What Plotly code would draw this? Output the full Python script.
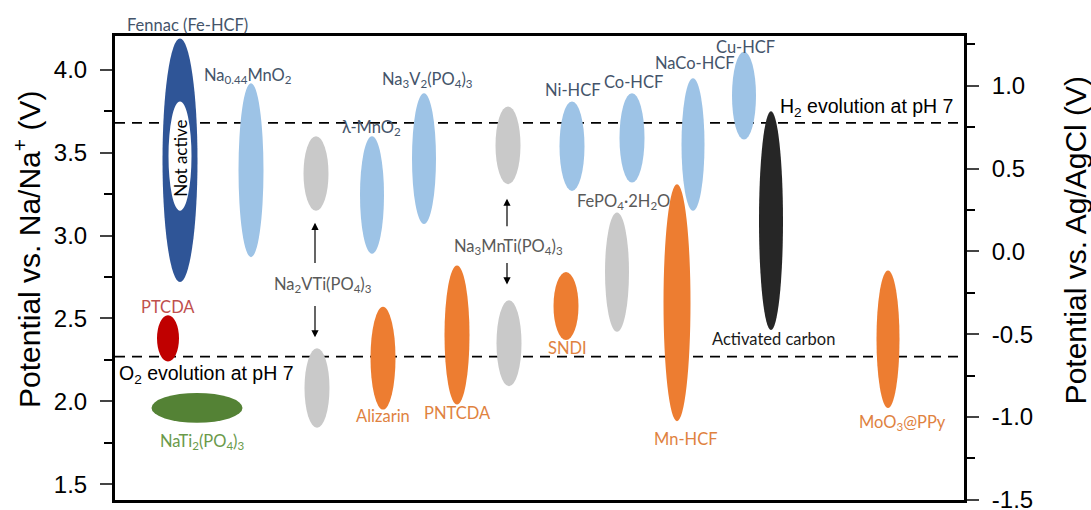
import plotly.graph_objects as go

# Electrode materials: potential window (V vs. Na/Na+)
materials = ["Fennac (Fe-HCF)", "Na0.44MnO2", "Na2VTi(PO4)3 (ox)", "λ-MnO2", "Na3V2(PO4)3",
             "Na3MnTi(PO4)3 (ox)", "Ni-HCF", "Co-HCF", "NaCo-HCF", "Cu-HCF", "Activated carbon",
             "FePO4·2H2O", "Mn-HCF", "Na2VTi(PO4)3 (red)", "Alizarin", "PNTCDA",
             "Na3MnTi(PO4)3 (red)", "SNDI", "MoO3@PPy", "PTCDA", "NaTi2(PO4)3"]
v_low = [2.72, 2.87, 3.15, 2.89, 3.07, 3.31, 3.27, 3.32, 3.15, 3.58, 2.43,
         2.42, 1.88, 1.84, 1.95, 1.98, 2.09, 2.37, 1.96, 2.24, 1.87]
v_high = [4.19, 3.92, 3.60, 3.60, 3.86, 3.78, 3.81, 3.86, 3.95, 4.11, 3.75,
          3.14, 3.31, 2.32, 2.57, 2.82, 2.61, 2.78, 2.79, 2.52, 2.05]
groups = ["fennac", "cathode", "nasicon", "cathode", "cathode", "nasicon", "cathode",
          "cathode", "cathode", "cathode", "carbon", "nasicon", "organic", "nasicon",
          "organic", "organic", "nasicon", "organic", "organic", "ptcda", "nati"]

# Inactive region of Fennac
inactive_low, inactive_high = 3.15, 3.81

# Water stability limits at pH 7 (V vs. Na/Na+)
h2_evolution = 3.68
o2_evolution = 2.27

# Offset between reference electrodes: E(Na/Na+) = E(Ag/AgCl) + offset
ref_offset = 2.905

# Tick labels of both potential scales
na_ticks = [1.5, 2.0, 2.5, 3.0, 3.5, 4.0]
agcl_ticks = [-1.5, -1.0, -0.5, 0.0, 0.5, 1.0]
agcl_ticktext = ["-1.5", "-1.0", "-0.5", "0.0", "0.5", "1.0"]

# Layout: horizontal slot and width of each ellipse
slot_x = [6.5, 13.6, 20.1, 25.7, 30.9, 39.3, 45.7, 51.7, 57.8, 62.9, 65.6,
          50.2, 56.2, 20.2, 26.8, 34.2, 39.4, 45.1, 77.3, 5.3, 8.2]
slot_w = [3.5, 2.5, 2.5, 2.4, 2.4, 2.5, 2.5, 2.5, 2.3, 2.4, 2.4,
          2.4, 2.7, 2.5, 2.5, 2.5, 2.5, 2.5, 2.3, 2.2, 9.1]

fill = {"fennac": "#2F5597", "cathode": "#9DC3E6", "nasicon": "#C9C9C9",
        "carbon": "#262626", "organic": "#ED7D31", "ptcda": "#C00000", "nati": "#548235"}

Y_RANGE = [1.404, 4.205]
X_RANGE = [0, 84.9]

fig = go.Figure()
# invisible traces so both potential axes are drawn
fig.add_trace(go.Scatter(x=[X_RANGE[0]], y=[Y_RANGE[0] - ref_offset], yaxis="y2",
                         mode="markers", marker=dict(opacity=0), showlegend=False,
                         hoverinfo="skip"))
fig.add_trace(go.Scatter(x=[X_RANGE[0]], y=[Y_RANGE[0]], mode="markers",
                         marker=dict(opacity=0), showlegend=False, hoverinfo="skip"))

shapes = []
for name, lo, hi, g, xc, w in zip(materials, v_low, v_high, groups, slot_x, slot_w):
    shapes.append(dict(type="circle", xref="x", yref="y", x0=xc - w / 2, x1=xc + w / 2,
                       y0=lo, y1=hi, fillcolor=fill[g], line=dict(width=0), layer="above"))
# white inner ellipse of Fennac
fx = slot_x[0]
shapes.append(dict(type="circle", xref="x", yref="y", x0=fx - 1.15, x1=fx + 1.15,
                   y0=inactive_low, y1=inactive_high, fillcolor="white", line=dict(width=0),
                   layer="above"))
for lvl in (h2_evolution, o2_evolution):
    shapes.append(dict(type="line", xref="paper", yref="y", x0=0, x1=1, y0=lvl, y1=lvl,
                       line=dict(color="black", width=1.8, dash="10px,7px"), layer="below"))

BLUE_T = "#44546A"
GRAY_T = "#595959"
ORNG_T = "#E0823F"
LBL = "Lato, Open Sans, sans-serif"
ARL = "Liberation Sans, Arial, sans-serif"
LSIZE = 16.5

labels = [
    ("Na<sub>0.44</sub>MnO<sub>2</sub>", 13.3, 3.964, BLUE_T),
    ("λ-MnO<sub>2</sub>", 25.6, 3.651, BLUE_T),
    ("Na<sub>3</sub>V<sub>2</sub>(PO<sub>4</sub>)<sub>3</sub>", 31.2, 3.94, BLUE_T),
    ("Ni-HCF", 45.8, 3.88, BLUE_T),
    ("Co-HCF", 51.8, 3.928, BLUE_T),
    ("NaCo-HCF", 58.0, 4.042, BLUE_T),
    ("Cu-HCF", 63.0, 4.139, BLUE_T),
    ("Activated carbon", 65.8, 2.373, "#1a1a1a"),
    ("FePO<sub>4</sub>·2H<sub>2</sub>O", 50.8, 3.205, GRAY_T),
    ("Na<sub>3</sub>MnTi(PO<sub>4</sub>)<sub>3</sub>", 39.3, 2.934, GRAY_T),
    ("Na<sub>2</sub>VTi(PO<sub>4</sub>)<sub>3</sub>", 20.8, 2.705, GRAY_T),
    ("SNDI", 45.2, 2.319, ORNG_T),
    ("Alizarin", 26.8, 1.910, ORNG_T),
    ("PNTCDA", 34.2, 1.928, ORNG_T),
    ("Mn-HCF", 57.0, 1.771, ORNG_T),
    ("MoO<sub>3</sub>@PPy", 78.7, 1.873, ORNG_T),
    ("PTCDA", 5.3, 2.572, "#C0504D"),
    ("NaTi<sub>2</sub>(PO<sub>4</sub>)<sub>3</sub>", 8.7, 1.759, "#6A9A4A"),
]
annotations = []
for txt, x, y, c in labels:
    annotations.append(dict(text=txt, x=x, y=y, xref="x", yref="y", showarrow=False,
                            font=dict(family=LBL, size=LSIZE, color=c)))
# label above the frame
annotations.append(dict(text="Fennac (Fe-HCF)", x=7.2, y=1.0, xref="x", yref="paper",
                        yanchor="middle", yshift=11, showarrow=False,
                        font=dict(family=LBL, size=LSIZE, color=BLUE_T)))
annotations.append(dict(text="Not active", x=6.6, y=3.464, xref="x", yref="y",
                        showarrow=False, textangle=-90,
                        font=dict(family=LBL, size=17, color="black")))
annotations.append(dict(text="H<sub>2</sub> evolution at pH 7", x=66.3, y=3.771,
                        xref="x", yref="y", showarrow=False, xanchor="left",
                        font=dict(family=ARL, size=19.5, color="black")))
annotations.append(dict(text="O<sub>2</sub> evolution at pH 7", x=0.2, y=2.163,
                        xref="x", yref="y", showarrow=False, xanchor="left",
                        font=dict(family=ARL, size=19.5, color="black")))

# axis titles
annotations.append(dict(text="Potential vs. Na/Na<sup>+</sup> (V)", x=-0.103, y=0.54,
                        xref="paper", yref="paper", xanchor="center", yanchor="middle",
                        showarrow=False, textangle=-90,
                        font=dict(family=ARL, size=30, color="black")))
annotations.append(dict(text="Potential vs. Ag/AgCl (V)", x=1.131, y=0.56,
                        xref="paper", yref="paper", xanchor="center", yanchor="middle",
                        showarrow=False, textangle=-90,
                        font=dict(family=ARL, size=30, color="black")))

# arrows linking the NASICON labels to their redox couples
arrows = [(20.0, 2.825, 3.078), (20.0, 2.584, 2.386), (39.2, 3.048, 3.223), (39.2, 2.843, 2.705)]
for x, y_from, y_to in arrows:
    annotations.append(dict(x=x, y=y_to, ax=x, ay=y_from, xref="x", yref="y",
                            axref="x", ayref="y", text="", showarrow=True,
                            arrowhead=2, arrowsize=1.2, arrowwidth=1.2, arrowcolor="black"))

fig.update_layout(
    width=1091, height=510,
    margin=dict(l=115, r=127, t=36, b=10, autoexpand=False),
    paper_bgcolor="white", plot_bgcolor="white",
    showlegend=False,
    shapes=shapes, annotations=annotations,
    xaxis=dict(range=X_RANGE, showticklabels=False, ticks="", showgrid=False,
               zeroline=False, showline=True, linecolor="black", linewidth=3, mirror=True,
               automargin=False),
    yaxis=dict(range=Y_RANGE, tickvals=na_ticks, tickformat=".1f",
               ticks="outside", ticklen=12, tickwidth=2, ticklabelstandoff=8,
               ticklabeloverflow="allow", automargin=False,
               minor=dict(tickvals=[1.75, 2.25, 2.75, 3.25, 3.75], ticks="outside",
                          ticklen=8, tickwidth=2, tickcolor="black"),
               showgrid=False, zeroline=False, showline=True, linecolor="black",
               linewidth=3, tickfont=dict(family=ARL, size=24, color="black")),
    yaxis2=dict(range=[Y_RANGE[0] - ref_offset, Y_RANGE[1] - ref_offset], overlaying="y",
                side="right", tickvals=agcl_ticks, ticktext=agcl_ticktext,
                ticks="outside", ticklen=12, tickwidth=2, ticklabelstandoff=8,
                ticklabeloverflow="allow", automargin=False,
                minor=dict(tickvals=[-1.25, -0.75, -0.25, 0.25, 0.75, 1.25], ticks="outside",
                           ticklen=8, tickwidth=2, tickcolor="black"),
                showgrid=False, zeroline=False, showline=True, linecolor="black",
                linewidth=3, tickfont=dict(family=ARL, size=24, color="black")),
)

fig.write_html("out.html")
